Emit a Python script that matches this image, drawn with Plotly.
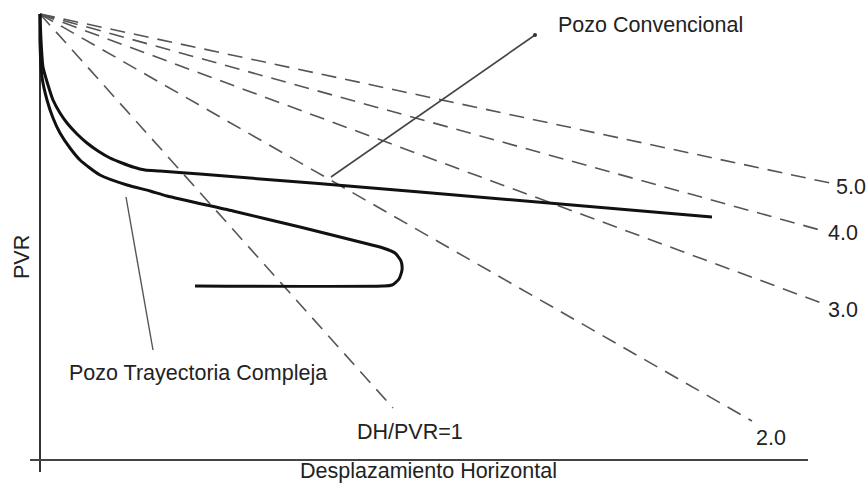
import plotly.graph_objects as go

# ---- data (DH = desplazamiento horizontal, PVR = profundidad vertical real; schematic units) ----
ratio_labels = ["DH/PVR=1", "2.0", "3.0", "4.0", "5.0"]
ratio_end_dh = [353, 712, 787, 780, 790]
ratio_end_pvr = [394, 407, 291, 216, 169]

conv_dh = [0, 1, 3, 8, 13, 20, 27, 37, 47, 58, 70, 82, 93, 105, 120, 160, 380, 672]
conv_pvr = [0, 26, 53, 71, 86, 99, 109, 120, 129, 137, 144, 149, 153, 156, 157, 160, 178, 203]

comp_dh = [0, 0, 2, 7, 13, 20, 30, 40, 60, 87, 110, 127, 193, 260, 320, 343, 355, 361, 362, 359, 352, 343, 155]
comp_pvr = [0, 29, 63, 86, 104, 119, 134, 146, 161, 171, 177, 182, 197, 213, 228, 234, 239, 247, 256, 265, 271, 272, 272]

leader_conv_dh = [495, 291]
leader_conv_pvr = [21, 163]
leader_comp_dh = [86, 113]
leader_comp_pvr = [183, 336]

axis_v_dh = [0, 0]
axis_v_pvr = [0, 458]
axis_h_dh = [-10, 768]
axis_h_pvr = [446, 446]

FONT = "Liberation Sans, Arial, Helvetica, sans-serif"
TXT = "#222222"

fig = go.Figure()

# axes
fig.add_trace(go.Scatter(x=axis_v_dh, y=axis_v_pvr, mode="lines",
                         line=dict(color="#333333", width=2), hoverinfo="skip"))
fig.add_trace(go.Scatter(x=axis_h_dh, y=axis_h_pvr, mode="lines",
                         line=dict(color="#444444", width=2), hoverinfo="skip"))

# DH/PVR reference dashed lines
for lab, dh, pvr in zip(ratio_labels, ratio_end_dh, ratio_end_pvr):
    fig.add_trace(go.Scatter(x=[0, dh], y=[0, pvr], mode="lines", name=lab,
                             line=dict(color="#555555", width=1.6, dash="15px,9px"),
                             hoverinfo="skip"))

# wells
fig.add_trace(go.Scatter(x=conv_dh, y=conv_pvr, mode="lines", name="Pozo Convencional",
                         line=dict(color="#111111", width=3, shape="spline", smoothing=0.6)))
fig.add_trace(go.Scatter(x=comp_dh, y=comp_pvr, mode="lines", name="Pozo Trayectoria Compleja",
                         line=dict(color="#111111", width=3, shape="spline", smoothing=0.6)))

# leaders
fig.add_trace(go.Scatter(x=leader_conv_dh, y=leader_conv_pvr, mode="lines",
                         line=dict(color="#444444", width=1.6), hoverinfo="skip"))
fig.add_trace(go.Scatter(x=leader_conv_dh[:1], y=leader_conv_pvr[:1], mode="markers",
                         marker=dict(color="#333333", size=4), hoverinfo="skip"))
fig.add_trace(go.Scatter(x=leader_comp_dh, y=leader_comp_pvr, mode="lines",
                         line=dict(color="#555555", width=1.4), hoverinfo="skip"))

ann = [
    ("Pozo Convencional", 610, 11, 0),
    ("Pozo Trayectoria Compleja", 158, 359, 0),
    ("DH/PVR=1", 370, 418, 0),
    ("2.0", 731, 424, 0),
    ("3.0", 803, 296, 0),
    ("4.0", 803, 219, 0),
    ("5.0", 811, 173, 0),
    ("Desplazamiento Horizontal", 388, 457, 0),
    ("PVR", -18, 243, -90),
]
for text, x, y, ang in ann:
    fig.add_annotation(x=x, y=y, text=text, showarrow=False, textangle=ang,
                       xanchor="center", yanchor="middle",
                       font=dict(family=FONT, size=21.5, color=TXT))

fig.update_layout(
    width=868, height=489,
    margin=dict(l=0, r=0, t=0, b=0),
    paper_bgcolor="white", plot_bgcolor="white",
    showlegend=False,
    hovermode=False,
    xaxis=dict(range=[-40, 828], visible=False, fixedrange=True),
    yaxis=dict(range=[475, -14], visible=False, fixedrange=True),
)

fig.write_html("out.html",
               config={"displayModeBar": False, "staticPlot": True},
               post_script="document.body.style.margin='0px';document.body.style.overflow='hidden';")
